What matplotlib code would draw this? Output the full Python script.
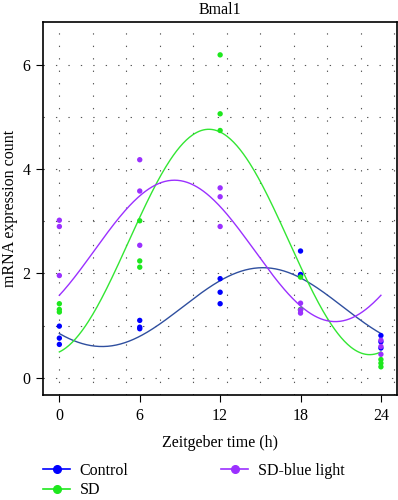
import numpy as np
import matplotlib
matplotlib.use("Agg")
import matplotlib.pyplot as plt
from matplotlib.lines import Line2D

# ---------------- data ----------------
title = "Bmal1"
times = [0, 6, 12, 18, 24]
xticks = [0, 6, 12, 18, 24]
yticks = [0, 2, 4, 6]
series_names = ["Control", "SD", "SD-blue light"]

control = [[0.99, 0.76, 0.64], [1.10, 0.97, 0.94], [1.90, 1.64, 1.42],
           [2.43, 1.98, 1.96], [0.81, 0.69, 0.57]]
sd = [[1.42, 1.31, 1.26], [3.01, 2.24, 2.12], [6.19, 5.06, 4.74],
      [1.93, 1.31, 1.30], [0.35, 0.21, 0.28]]
sd_blue = [[3.02, 2.90, 1.96], [4.18, 3.58, 2.54], [3.64, 3.47, 2.90],
           [1.43, 1.24, 1.30], [0.72, 0.60, 0.45]]

point_colors = ["#0000ff", "#1ee81e", "#9b30ff"]
line_colors = ["#2f4f9f", "#33e633", "#9b30ff"]
period = 24.0

# ---------------- figure ----------------
plt.rcParams["font.family"] = ["Liberation Serif", "DejaVu Serif"]
fig = plt.figure(figsize=(3.98, 5.0), dpi=100)
L, R, T, B = 43, 397, 22, 395
ax = fig.add_axes([L / 398, 1 - B / 500, (R - L) / 398, (B - T) / 500])

ax.set_xlim(-1.22, 25.2)
ax.set_ylim(-0.33, 6.82)

# grid (dotted)
for gx in np.arange(0, 25.1, 2.5):
    ax.axvline(gx, color="#555555", lw=0.8, ls=(0, (1.2, 10)), zorder=0)
for gy in range(0, 7):
    ax.axhline(gy, color="#555555", lw=0.8, ls=(0, (1.2, 10)), zorder=0)

tt = np.linspace(0, 24, 300)
for name, data, pc, lc in zip(series_names, [control, sd, sd_blue], point_colors, line_colors):
    xs = np.repeat(times, [len(v) for v in data])
    ys = np.concatenate([np.asarray(v, float) for v in data])
    w = 2 * np.pi / period
    X = np.column_stack([np.ones_like(xs, dtype=float), np.cos(w * xs), np.sin(w * xs)])
    coef, *_ = np.linalg.lstsq(X, ys, rcond=None)
    fit = coef[0] + coef[1] * np.cos(w * tt) + coef[2] * np.sin(w * tt)
    ax.plot(tt, fit, color=lc, lw=1.0, zorder=2)
    ax.scatter(xs, ys, s=15, color=pc, edgecolors="none", zorder=3)

ax.set_xticks(xticks)
ax.set_yticks(yticks)
ax.tick_params(axis="both", labelsize=11.5, length=5, width=0.8, color="black", pad=4)
for sp in ax.spines.values():
    sp.set_linewidth(1.2)

ax.set_title(title, fontsize=11.5, pad=6)
ax.set_xlabel("Zeitgeber time (h)", fontsize=11.5, labelpad=8)
ax.set_ylabel("mRNA expression count", fontsize=11.5, labelpad=3)

handles = [Line2D([0], [0], color=pc, lw=1.2, marker="o", markersize=5.5)
           for pc in point_colors]
fig.legend(handles, series_names, loc="upper left", ncol=2,
           bbox_to_anchor=(43 / 398, 1 - 463 / 500), frameon=False,
           fontsize=11.5, handlelength=1.7, handletextpad=0.6,
           columnspacing=5.8, labelspacing=0.2, borderpad=0, borderaxespad=0)

fig.savefig("out.png", dpi=100)
